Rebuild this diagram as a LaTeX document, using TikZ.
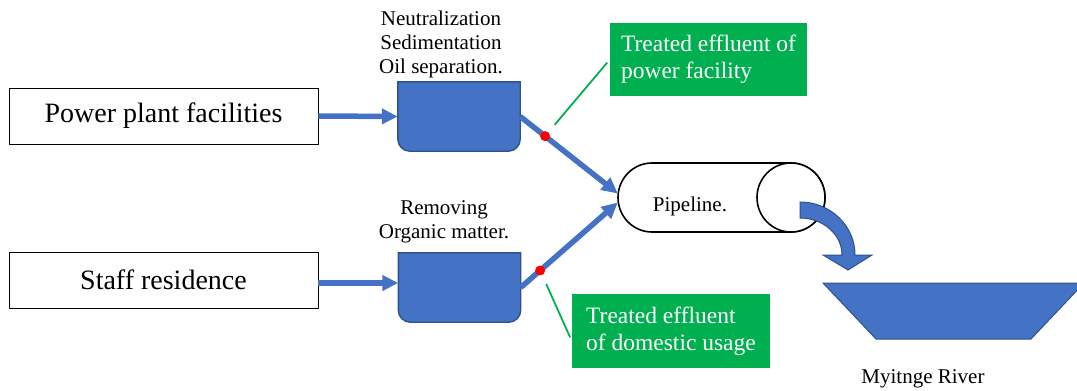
\documentclass[tikz,border=0pt]{standalone}
\usepackage{fontspec}
\setmainfont{Liberation Serif}
\usetikzlibrary{arrows.meta,positioning,calc}
\definecolor{flowblue}{HTML}{4472C4}
\definecolor{tankedge}{HTML}{2F528F}
\definecolor{effgreen}{HTML}{00B050}
\tikzset{
  srcbox/.style={draw, line width=0.9pt, minimum width=309pt, minimum height=56pt,
                 inner sep=0pt, font=\rmfamily\fontsize{28}{31}\selectfont},
  tankspot/.style={minimum width=122pt, minimum height=69pt, inner sep=0pt},
  tank/.style={draw=tankedge, line width=1.4pt, fill=flowblue},
  note/.style={align=center, inner sep=0pt, font=\rmfamily\fontsize{21}{23.8}\selectfont},
  flow/.style={draw=flowblue, line width=5.5pt, -{Triangle[length=16pt,width=15pt]}},
  spot/.style={circle, fill=red, inner sep=0pt, minimum size=10pt},
  effbox/.style={fill=effgreen, text=white, align=left, inner sep=0pt,
                 font=\rmfamily\fontsize{23.5}{27}\selectfont},
  callout/.style={draw=effgreen, line width=1.8pt},
  pipespot/.style={minimum width=207pt, minimum height=69pt, inner sep=0pt},
  pipeline/.style={draw, line width=1.6pt, fill=white},
  block/.style={draw=tankedge, line width=1pt, fill=flowblue},
}
\begin{document}
\begin{tikzpicture}[x=1pt,y=-1pt]
    \useasboundingbox (0,0) rectangle (1077,391);
    \clip (0,0) rectangle (1077,391);
    \node[srcbox] (power) at (163.5,116) {Power plant facilities};
    \node[srcbox] (staff) at (163.5,280) {Staff residence};
    \node[tankspot] (tank1) at (459,116.5) {};
    \node[tankspot] (tank2) at (459.5,287.5) {};
    \draw[tank] (tank1.west) [rounded corners=12pt] -- (tank1.south west) -- (tank1.south east)
      -- (tank1.east) [sharp corners] -- (tank1.north east) -- (tank1.north west) -- cycle;
    \draw[tank] (tank2.west) [rounded corners=12pt] -- (tank2.south west) -- (tank2.south east)
      -- (tank2.east) [sharp corners] -- (tank2.north east) -- (tank2.north west) -- cycle;
    \node[note] (t1note) at (441,44.5) {Neutralization\\Sedimentation\\Oil separation.};
    \node[note] (t2note) at (444,222) {Removing\\Organic matter.};
    \node[pipespot] (pipe) at (721.5,197.5) {};
    \draw[pipeline] (652,163) -- (791,163) arc[start angle=-90,end angle=90,x radius=34,y radius=34.5]
      -- (652,232) arc[start angle=90,end angle=270,x radius=34,y radius=34.5] -- cycle;
    \draw[pipeline] (791,197.5) ellipse[x radius=34,y radius=34.5];
    \node[note] (pipetext) at (690,206) {Pipeline.};
    \draw[flow] (power.east) -- (tank1.west);
    \draw[flow] ([yshift=-3pt]staff.east) -- ([yshift=-3pt]staff.east -| tank2.west);
    \draw[flow] (tank1.east) -- node[spot,pos=0.255] (spot1) {} ([yshift=4pt]pipe.west);
    \draw[flow] (tank2.east) -- node[spot,pos=0.2] (spot2) {} ([yshift=-5pt]pipe.west);
    \node[effbox, minimum width=197pt, minimum height=73pt] (eff1) at (708.5,59.5)
      {Treated effluent of\\power facility};
    \node[effbox, minimum width=198pt, minimum height=74pt] (eff2) at (671,331)
      {Treated effluent\\of domestic usage};
    \draw[callout, shorten <=7pt, shorten >=4pt] (spot1) -- (eff1.west);
    \draw[callout, shorten <=7pt, shorten >=4pt] (spot2) -- ([yshift=-10pt]eff2.west);
    \draw[block] (800,202) arc[start angle=-90,end angle=0,x radius=55,y radius=53]
      -- (872,255) -- (848,270) -- (823,255) -- (842,255)
      arc[start angle=0,end angle=-90,x radius=42,y radius=37] -- cycle;
    \draw[block] (823,283) -- (1084,283) -- (1031,339) -- (876,339) -- cycle;
    \node[note] (river) at (923,379) {Myitnge River};
  \end{tikzpicture}
\end{document}
